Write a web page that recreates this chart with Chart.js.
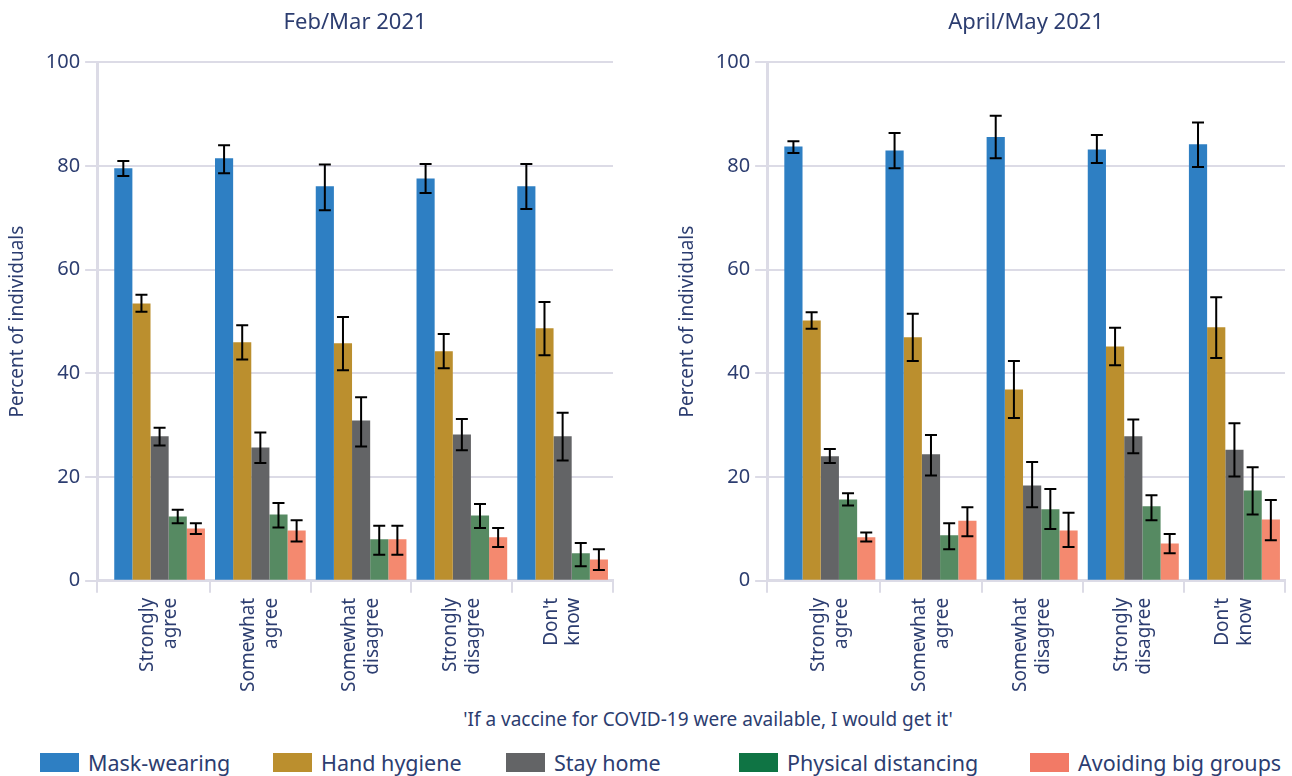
<!DOCTYPE html>
<html>
<head>
<meta charset="utf-8">
<script src="https://cdn.jsdelivr.net/npm/chart.js@4.4.1/dist/chart.umd.min.js"></script>
<style>
  body { margin: 0; background: #fff; font-family: "Noto Sans", sans-serif; color: #2c3d70; }
  #wrap { position: relative; width: 1292px; height: 776px; }
  .box { position: absolute; top: 0; height: 697px; }
  #xtitle { position: absolute; top: 706px; left: 0; width: 1416px; text-align: center; font-size: 19px; }
  #legend { position: absolute; top: 748px; left: 0; width: 1292px; height: 28px; }
  .item { position: absolute; display: flex; align-items: center; font-size: 21.5px; }
  .sw { width: 39px; height: 19px; margin-right: 9px; }
</style>
</head>
<body>
<div id="wrap">
  <div class="box" style="left:0;width:625px"><canvas id="feb"></canvas></div>
  <div class="box" style="left:670px;width:622px"><canvas id="apr"></canvas></div>
  <div id="xtitle">'If a vaccine for COVID-19 were available, I would get it'</div>
  <div id="legend"></div>
</div>
<script>
const categories = [['Strongly', 'agree'], ['Somewhat', 'agree'], ['Somewhat', 'disagree'], ['Strongly', 'disagree'], ["Don't", 'know']];
const seriesNames = ['Mask-wearing', 'Hand hygiene', 'Stay home', 'Physical distancing', 'Avoiding big groups'];
const barColors = ['#2e7fc3', '#bb8f2e', '#636466', '#568a62', '#f4896f'];
const legendColors = ['#2e7fc3', '#bb8f2e', '#636466', '#0f7444', '#f27a66'];
const yTicks = [0, 20, 40, 60, 80, 100];

// Feb/Mar 2021
const febMask = [79.6, 81.5, 76.1, 77.6, 76.1];
const febMaskLow = [78.1, 78.6, 71.5, 74.8, 71.7];
const febMaskHigh = [81.0, 84.0, 80.3, 80.4, 80.4];
const febHand = [53.5, 46.0, 45.8, 44.3, 48.7];
const febHandLow = [51.9, 42.7, 40.6, 41.0, 43.5];
const febHandHigh = [55.2, 49.3, 50.9, 47.6, 53.8];
const febStay = [27.9, 25.7, 30.9, 28.2, 27.9];
const febStayLow = [26.1, 22.7, 25.9, 25.2, 23.2];
const febStayHigh = [29.5, 28.6, 35.4, 31.2, 32.4];
const febPhys = [12.4, 12.8, 8.0, 12.6, 5.3];
const febPhysLow = [11.1, 10.3, 5.0, 10.2, 2.8];
const febPhysHigh = [13.7, 15.0, 10.6, 14.8, 7.3];
const febAvoid = [10.1, 9.7, 8.0, 8.4, 4.1];
const febAvoidLow = [9.0, 7.6, 5.0, 6.5, 2.1];
const febAvoidHigh = [11.1, 11.7, 10.6, 10.2, 6.1];

// April/May 2021
const aprMask = [83.8, 83.0, 85.6, 83.2, 84.2];
const aprMaskLow = [82.5, 79.6, 81.5, 80.6, 79.8];
const aprMaskHigh = [84.8, 86.4, 89.7, 86.0, 88.4];
const aprHand = [50.2, 47.0, 36.9, 45.2, 48.9];
const aprHandLow = [48.6, 42.4, 31.4, 41.6, 43.0];
const aprHandHigh = [51.8, 51.5, 42.4, 48.8, 54.7];
const aprStay = [24.0, 24.4, 18.4, 27.9, 25.3];
const aprStayLow = [22.7, 20.3, 14.2, 24.6, 20.1];
const aprStayHigh = [25.4, 28.1, 22.9, 31.1, 30.4];
const aprPhys = [15.7, 8.8, 13.8, 14.4, 17.4];
const aprPhysLow = [14.5, 6.1, 10.0, 11.7, 12.8];
const aprPhysHigh = [16.9, 11.1, 17.7, 16.5, 21.9];
const aprAvoid = [8.4, 11.6, 9.7, 7.2, 11.8];
const aprAvoidLow = [7.6, 8.6, 6.5, 5.3, 7.8];
const aprAvoidHigh = [9.3, 14.2, 13.1, 9.0, 15.6];

const textColor = '#2c3d70';
const gridColor = '#dcdbe6';
// the y axis sits a bit left of the first category band
const xMin = -0.62;
const xMax = categories.length - 0.5;
const xBounds = [xMin].concat(categories.map((c, i) => i + 0.5));

// draws the black error bars on top of each bar
const errorBars = {
  id: 'errorBars',
  afterDatasetsDraw(chart) {
    const c = chart.ctx;
    const y = chart.scales.y;
    c.save();
    c.strokeStyle = '#000';
    c.lineWidth = 2;
    chart.data.datasets.forEach((ds, i) => {
      chart.getDatasetMeta(i).data.forEach((bar, j) => {
        const top = y.getPixelForValue(ds.high[j]);
        const bot = y.getPixelForValue(ds.low[j]);
        c.beginPath();
        c.moveTo(bar.x, top); c.lineTo(bar.x, bot);
        c.moveTo(bar.x - 6, top); c.lineTo(bar.x + 6, top);
        c.moveTo(bar.x - 6, bot); c.lineTo(bar.x + 6, bot);
        c.stroke();
      });
    });
    c.restore();
  }
};

function makeChart(id, title, values, lows, highs, pad) {
  new Chart(document.getElementById(id), {
    type: 'bar',
    data: {
      datasets: seriesNames.map((name, i) => ({
        label: name,
        data: values[i].map((v, j) => ({ x: j, y: v })),
        low: lows[i],
        high: highs[i],
        backgroundColor: barColors[i],
        categoryPercentage: 0.9,
        barPercentage: 1
      }))
    },
    options: {
      responsive: true,
      maintainAspectRatio: false,
      animation: false,
      layout: { padding: pad },
      plugins: {
        legend: { display: false },
        tooltip: { enabled: false },
        title: {
          display: true, text: title, color: textColor, fullSize: false,
          font: { family: 'Noto Sans', size: 22, weight: 'normal' },
          padding: { top: 10, bottom: 26 }
        }
      },
      scales: {
        x: {
          type: 'linear', min: xMin, max: xMax, offset: false,
          afterBuildTicks: (ax) => { ax.ticks = xBounds.map(v => ({ value: v })); },
          grid: { offset: false, drawOnChartArea: false, color: gridColor, lineWidth: 2, tickLength: 12 },
          border: { color: gridColor, width: 3 },
          ticks: { display: false }
        },
        x2: {
          type: 'linear', position: 'bottom', min: xMin, max: xMax, offset: false,
          afterBuildTicks: (ax) => { ax.ticks = categories.map((c, i) => ({ value: i })); },
          grid: { display: false, drawTicks: false, offset: false },
          border: { display: false },
          ticks: {
            color: textColor, font: { family: 'Noto Sans', size: 19, lineHeight: 1.2 },
            maxRotation: 90, minRotation: 90, padding: 5, autoSkip: false, labelOffset: -11.5,
            callback: (v) => categories[v]
          }
        },
        y: {
          min: 0, max: 100,
          afterBuildTicks: (ax) => { ax.ticks = yTicks.map(v => ({ value: v })); },
          grid: { color: gridColor, lineWidth: 2, tickLength: 12 },
          border: { color: gridColor, width: 3 },
          ticks: { color: textColor, font: { family: 'Noto Sans', size: 20 }, padding: 5 },
          title: { display: true, text: 'Percent of individuals', color: textColor, font: { family: 'Noto Sans', size: 19 }, padding: { top: 4, bottom: 12 } }
        }
      }
    },
    plugins: [errorBars]
  });
}

makeChart('feb', 'Feb/Mar 2021',
  [febMask, febHand, febStay, febPhys, febAvoid],
  [febMaskLow, febHandLow, febStayLow, febPhysLow, febAvoidLow],
  [febMaskHigh, febHandHigh, febStayHigh, febPhysHigh, febAvoidHigh],
  { left: 2, right: 12, bottom: 0 });
makeChart('apr', 'April/May 2021',
  [aprMask, aprHand, aprStay, aprPhys, aprAvoid],
  [aprMaskLow, aprHandLow, aprStayLow, aprPhysLow, aprAvoidLow],
  [aprMaskHigh, aprHandHigh, aprStayHigh, aprPhysHigh, aprAvoidHigh],
  { left: 2, right: 7, bottom: 0 });

// legend shared by both panels
const legendX = [40, 273, 506, 739, 1030];
const legend = document.getElementById('legend');
seriesNames.forEach((name, i) => {
  const it = document.createElement('div');
  it.className = 'item';
  it.style.left = legendX[i] + 'px';
  it.innerHTML = '<span class="sw" style="background:' + legendColors[i] + '"></span><span>' + name + '</span>';
  legend.appendChild(it);
});
</script>
</body>
</html>
